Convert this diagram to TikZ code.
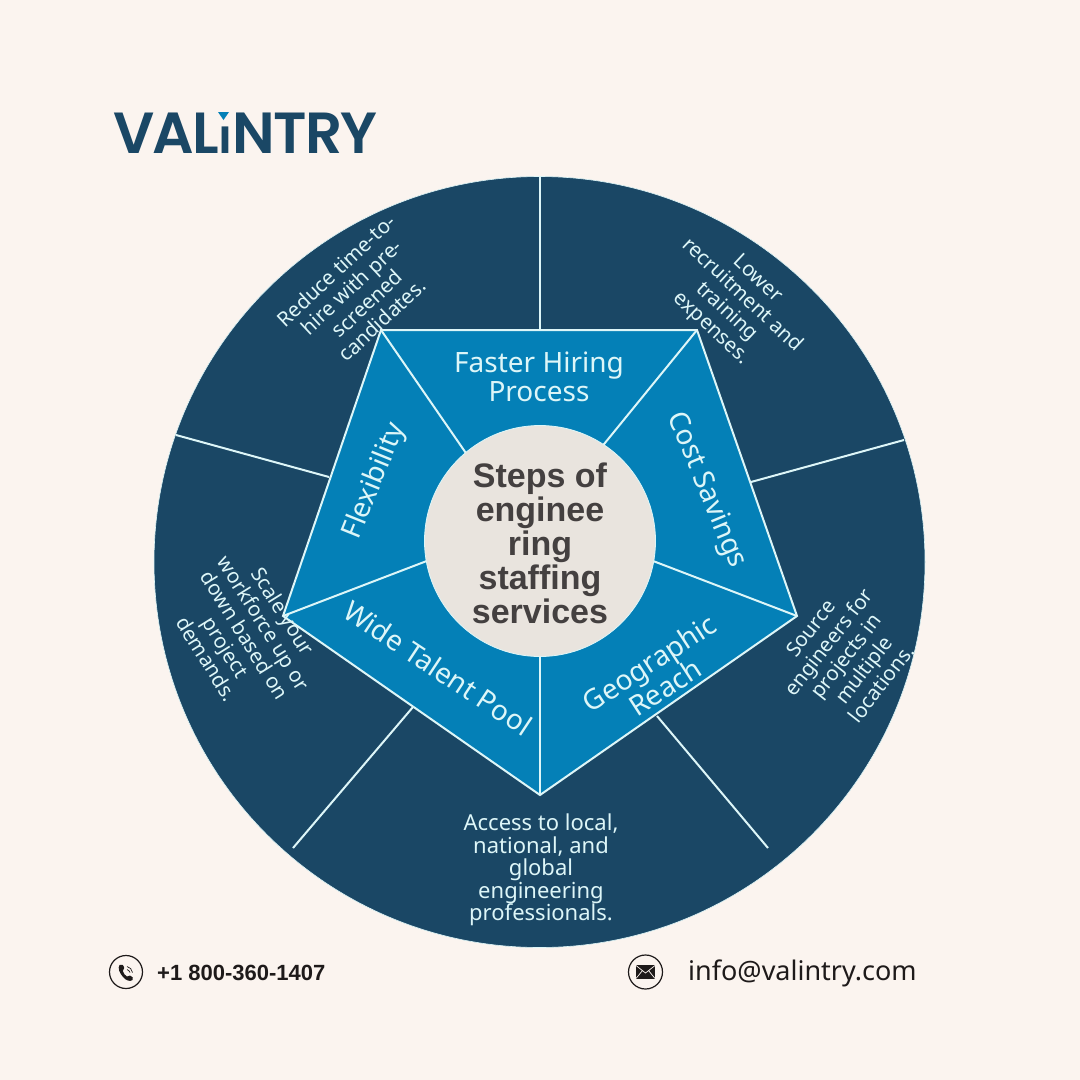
\documentclass[tikz,border=0pt]{standalone}
\usepackage{fontspec}
\setmainfont{Noto Sans}
\newfontfamily\logofont{Poppins SemiBold}[LetterSpace=-3.2]
\newfontfamily\boldsans{Liberation Sans}[BoldFont=Liberation Sans Bold]
\definecolor{pagebg}{HTML}{FBF4EF}
\definecolor{ringblue}{HTML}{1A4765}
\definecolor{midblue}{HTML}{0480B7}
\definecolor{hubgrey}{HTML}{E9E4DE}
\definecolor{linelight}{HTML}{DDF6F8}
\definecolor{hubtext}{HTML}{444040}
\definecolor{inkblack}{HTML}{1E1A1A}
\tikzset{
  spoke/.style={draw=linelight,line width=2pt},
  outertext/.style={text=linelight,align=center,font=\fontsize{20.5}{22.5}\selectfont,inner sep=0pt},
  innertext/.style={text=linelight,align=center,font=\fontsize{28}{29}\selectfont,inner sep=0pt},
  iconring/.style={circle,draw=inkblack,line width=1.2pt,minimum size=33pt,inner sep=0pt}
}
\begin{document}
\begin{tikzpicture}[x=1pt,y=-1pt]
\useasboundingbox (0,0) rectangle (1080,1080);
\fill[pagebg] (0,0) rectangle (1080,1080);
% outer ring
\node[circle,fill=ringblue,draw=linelight,line width=0.6pt,minimum size=771pt,inner sep=0pt] (ring) at (539.5,562) {};
% pentagon vertices
\coordinate (ptl) at (381,330);
\coordinate (ptr) at (697,330);
\coordinate (pr) at (797,616);
\coordinate (pb) at (540,795);
\coordinate (pl) at (283,616);
% outer spoke ends
\coordinate (o1a) at (540,177); \coordinate (o1b) at (540,330);
\coordinate (o2a) at (904,440); \coordinate (o2b) at (751,482);
\coordinate (o3a) at (768,848); \coordinate (o3b) at (657,716);
\coordinate (o4a) at (293,848); \coordinate (o4b) at (413,707);
\coordinate (o5a) at (176,435); \coordinate (o5b) at (329,477);
\foreach \k in {1,...,5} {\draw[spoke] (o\k a) -- (o\k b);}
\draw[spoke,fill=midblue,line join=miter] (ptl) -- (ptr) -- (pr) -- (pb) -- (pl) -- cycle;
\coordinate (hubc) at (540,541);
\coordinate (h1) at (479,472);
\coordinate (h2) at (587,465);
\coordinate (h3) at (640,556);
\coordinate (h4) at (540,640);
\coordinate (h5) at (445,554);
\draw[spoke] (ptl) -- (h1);
\draw[spoke] (ptr) -- (h2);
\draw[spoke] (pr) -- (h3);
\draw[spoke] (pb) -- (h4);
\draw[spoke] (pl) -- (h5);
\node[circle,fill=hubgrey,draw=linelight,line width=0.8pt,minimum size=231pt,inner sep=0pt] (hub) at (hubc) {};
\node[text=hubtext,align=center,font=\boldsans\bfseries\fontsize{34}{34}\selectfont,inner sep=0pt] (hubtxt) at (540,543) {Steps of\\enginee\\ring\\staffing\\services};
% inner labels
\node[innertext] (l1) at (539,377) {Faster Hiring\\Process};
\node[innertext,rotate=-67.5] (l2) at (706,490) {Cost Savings};
\node[innertext,rotate=33] (l3) at (657,675) {Geographic\\Reach};
\node[innertext,rotate=-33.5] (l4) at (438,668) {Wide Talent Pool};
\node[innertext,rotate=68] (l5) at (375,481) {Flexibility};
% outer labels
\node[outertext,rotate=-43] (t1) at (734,304) {Lower\\recruitment and\\training\\expenses.};
\node[outertext,rotate=52] (t2) at (846,656) {Source\\engineers for\\projects in\\multiple\\locations.};
\node[outertext,font=\fontsize{22}{22.5}\selectfont] (t3) at (541,870) {Access to local,\\national, and\\global\\engineering\\professionals.};
\node[outertext,rotate=-58] (t4) at (245,635) {Scale your\\workforce up or\\down based on\\project\\demands.};
\node[outertext,rotate=43] (t5) at (359,295) {Reduce time-to-\\hire with pre-\\screened\\candidates.};
% logo
\node[anchor=base west,text=ringblue,inner sep=0pt,font=\logofont\fontsize{58}{58}\selectfont] (logo) at (113,153) {VAL{\fontsize{48}{48}\selectfont ı}NTRY};
\fill[midblue] (218,112) -- (229,112) -- (223.5,120) -- cycle;
% contacts
\node[iconring] (phonering) at (126,972) {};
\fill[inkblack] (119.5,965) .. controls (122,963.5) and (123.5,965) .. (124.2,968) .. controls (124.5,969.5) and (122.5,969.5) .. (122.8,971) .. controls (123.5,973.5) and (125,975.5) .. (127,976.5) .. controls (128,977) and (129,975) .. (130,975.5) .. controls (132.5,976.5) and (134,978) .. (132.5,980) .. controls (130,982) and (126,980.5) .. (123,977) .. controls (119.5,973) and (117.5,968) .. (119.5,965) -- cycle;
\draw[inkblack,line width=0.7pt] (127,966.5) .. controls (130,967) and (132,969.5) .. (132.5,972.5);
\draw[inkblack,line width=0.7pt] (127,969.5) .. controls (128.5,970) and (129.5,971) .. (130,972.5);
\node[anchor=base west,text=inkblack,inner sep=0pt,font=\boldsans\bfseries\fontsize{22}{22}\selectfont] (phone) at (157,980) {+1 800-360-1407};
\node[iconring,minimum size=34pt] (mailring) at (645.5,972) {};
\fill[inkblack] (636,965) rectangle (655,979);
\draw[pagebg,line width=0.7pt] (636,965.5) -- (645.5,973) -- (655,965.5) (636,978.5) -- (642.5,970.5) (655,978.5) -- (648.5,970.5);
\node[anchor=base west,text=inkblack,inner sep=0pt,font=\fontsize{27}{27}\selectfont] (mail) at (688,980) {info@valintry.com};
\end{tikzpicture}
\end{document}
